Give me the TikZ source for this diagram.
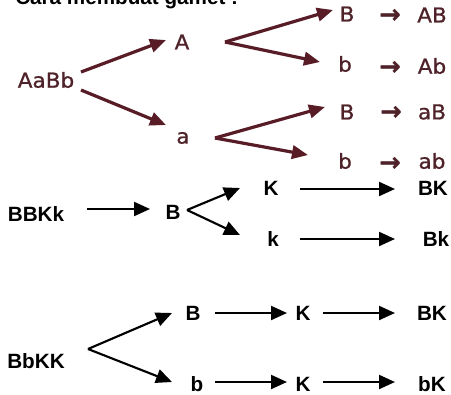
\documentclass[tikz,border=0pt]{standalone}
\usepackage{fontspec}
\usetikzlibrary{arrows.meta}
\setmainfont{Liberation Sans}
\newfontfamily\treefont[FakeStretch=1.05,FakeBold=0.9]{DejaVu Sans}
\newfontfamily\treesym[FakeBold=1.2]{DejaVu Sans}
\definecolor{maroon}{RGB}{88,28,38}
\definecolor{maroontext}{RGB}{78,34,40}
\begin{document}
\begin{tikzpicture}[x=0.75pt,y=-0.75pt,
  lbl/.style={inner sep=0pt,font=\fontsize{15.5pt}{18pt}\selectfont\bfseries,text=black},
  tlbl/.style={inner sep=0pt,font=\fontsize{15.4pt}{18pt}\treefont,text=maroontext},
  tsym/.style={tlbl,font=\fontsize{19pt}{20pt}\treesym\bfseries},
  tarr/.style={draw=maroon,line width=2.4pt,-{Triangle[length=12pt,width=10pt]},fill=maroon},
  barr/.style={draw=black,line width=1.6pt,-{Triangle[length=12pt,width=10.5pt]}}]
\useasboundingbox[fill=white] (0,0) rectangle (451,394);

% heading (partly above the page edge)
\node[lbl,anchor=base west] (title) at (15,4) {Cara membuat gamet :};

% ---- dihybrid AaBb ----
\node[tlbl] (aabb) at (46,80) {AaBb};
\node[tlbl] (A) at (182,42) {A};
\node[tlbl] (a) at (183,138) {a};
\node[tlbl] (B1) at (347,14) {B};
\node[tlbl] (b1) at (345,64) {b};
\node[tlbl] (B2) at (347,112) {B};
\node[tlbl] (b2) at (345,161) {b};
\node[tsym] (r1) at (390,16) {→};
\node[tsym] (r2) at (390,68) {→};
\node[tsym] (r3) at (391,113) {→};
\node[tsym] (r4) at (390,164) {→};
\node[tlbl] (AB) at (432,15) {AB};
\node[tlbl] (Ab) at (432,66) {Ab};
\node[tlbl] (aB) at (432,112) {aB};
\node[tlbl] (ab) at (432,161) {ab};

\coordinate (Av) at (225,42);
\coordinate (av) at (215,138);
\draw[tarr] ([shift={(35,-8)}]aabb.center) -- ([shift={(-16,-2)}]A.center);
\draw[tarr] ([shift={(35,10)}]aabb.center) -- ([shift={(-17,-13)}]a.center);
\draw[tarr] (Av) -- ([shift={(-14,-4)}]B1.center);
\draw[tarr] (Av) -- ([shift={(-25,-2)}]b1.center);
\draw[tarr] (av) -- ([shift={(-22,-5)}]B2.center);
\draw[tarr] (av) -- ([shift={(-37,-6)}]b2.center);

% ---- BBKk ----
\node[lbl] (bbkk) at (36,214) {BBKk};
\node[lbl] (B3) at (173,212) {B};
\node[lbl] (K1) at (271,188) {K};
\node[lbl] (BK1) at (433,188) {BK};
\node[lbl] (k1) at (273,239) {k};
\node[lbl] (Bk1) at (436,239) {Bk};
\coordinate (Bv) at (187,210);
\draw[barr] ([shift={(51,-5)}]bbkk.center) -- ([shift={(-23,-3)}]B3.center);
\draw[barr] (Bv) -- ([shift={(-31,0)}]K1.center);
\draw[barr] (Bv) -- ([shift={(-33,-4)}]k1.center);
\draw[barr] ([shift={(29,1)}]K1.center) -- ([shift={(-38,1)}]BK1.center);
\draw[barr] ([shift={(27,0)}]k1.center) -- ([shift={(-41,0)}]Bk1.center);

% ---- BbKK ----
\node[lbl] (bbKK) at (36,361) {BbKK};
\node[lbl] (B4) at (193,313) {B};
\node[lbl] (K2) at (303,313) {K};
\node[lbl] (BK2) at (432,313) {BK};
\node[lbl] (b4) at (197,384) {b};
\node[lbl] (K3) at (303,384) {K};
\node[lbl] (bK) at (432,384) {bK};
\coordinate (bv) at (88,349);
\draw[barr] (bv) -- ([shift={(-21,0)}]B4.center);
\draw[barr] (bv) -- ([shift={(-25,-2)}]b4.center);
\draw[barr] ([shift={(22,0)}]B4.center) -- ([shift={(-16,0)}]K2.center);
\draw[barr] ([shift={(20,0)}]K2.center) -- ([shift={(-37,0)}]BK2.center);
\draw[barr] ([shift={(18,-2)}]b4.center) -- ([shift={(-16,-2)}]K3.center);
\draw[barr] ([shift={(20,-2)}]K3.center) -- ([shift={(-37,-2)}]bK.center);
\end{tikzpicture}
\end{document}
